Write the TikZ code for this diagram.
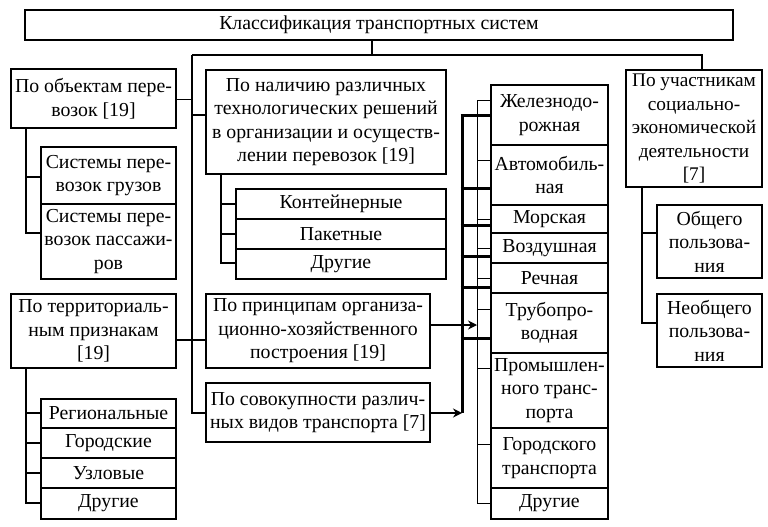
\documentclass[tikz,border=0pt]{standalone}
\usepackage{fontspec}
\setmainfont{Liberation Serif}
\usetikzlibrary{arrows.meta}
\begin{document}
\begin{tikzpicture}[x=1pt,y=-1pt,
  box/.style={draw,line width=1.6pt,inner sep=0pt,align=center,font=\fontsize{19.8}{23.5}\selectfont},
  conn/.style={line width=1.6pt},
  thinconn/.style={line width=0.9pt},
  thickconn/.style={line width=3pt},
  arr/.style={line width=2.6pt,-{Stealth[length=9pt,width=9pt]}}]
\useasboundingbox (0,0) rectangle (768,527);
% boxes: center, width, height
\node[box,minimum width=708pt,minimum height=30pt] (title) at (379,25) {Классификация транспортных систем};
\node[box,minimum width=165pt,minimum height=59pt] (obj) at (93.5,98.5) {По объектам пере-\\возок {[19]}};
\node[box,minimum width=135pt,minimum height=57pt] (gruz) at (108.5,175.5) {Системы пере-\\возок грузов};
\node[box,minimum width=135pt,minimum height=75pt] (pass) at (108.5,241.5) {Системы пере-\\возок пассажи-\\ров};
\node[box,minimum width=165pt,minimum height=74pt] (terr) at (93.5,331) {По территориаль-\\ным признакам\\{[19]}};
\node[box,minimum width=135pt,minimum height=29pt] (reg) at (108.5,413.5) {Региональные};
\node[box,minimum width=135pt,minimum height=30pt] (gor) at (108.5,443) {Городские};
\node[box,minimum width=135pt,minimum height=30pt] (uzl) at (108.5,473) {Узловые};
\node[box,minimum width=135pt,minimum height=31pt] (drA) at (108.5,503.5) {Другие};
\node[box,minimum width=240pt,minimum height=104pt] (nal) at (326,122) {По наличию различных\\технологических решений\\в организации и осуществ-\\лении перевозок {[19]}};
\node[box,minimum width=210pt,minimum height=30pt] (kont) at (341,204) {Контейнерные};
\node[box,minimum width=210pt,minimum height=30pt] (pak) at (341,234) {Пакетные};
\node[box,minimum width=210pt,minimum height=30pt] (drB) at (341,264) {Другие};
\node[box,minimum width=224pt,minimum height=74pt] (prin) at (318,331) {По принципам организа-\\ционно-хозяйственного\\построения {[19]}};
\node[box,minimum width=224pt,minimum height=59pt] (sov) at (318,412.5) {По совокупности различ-\\ных видов транспорта {[7]}};
% transport column
\node[box,minimum width=117pt,minimum height=60pt] (zhel) at (549.5,115) {Железнодо-\\рожная};
\node[box,minimum width=117pt,minimum height=60pt] (avto) at (549.5,175) {Автомобиль-\\ная};
\node[box,minimum width=117pt,minimum height=28pt] (mor) at (549.5,219) {Морская};
\node[box,minimum width=117pt,minimum height=30pt] (vozd) at (549.5,248) {Воздушная};
\node[box,minimum width=117pt,minimum height=30pt] (rech) at (549.5,278) {Речная};
\node[box,minimum width=117pt,minimum height=60pt] (trub) at (549.5,323) {Трубопро-\\водная};
\node[box,minimum width=117pt,minimum height=75pt] (prom) at (549.5,390.5) {Промышлен-\\ного транс-\\порта};
\node[box,minimum width=117pt,minimum height=60pt] (gorod) at (549.5,458) {Городского\\транспорта};
\node[box,minimum width=117pt,minimum height=31pt] (drC) at (549.5,503.5) {Другие};
% right column
\node[box,minimum width=136pt,minimum height=117pt,font=\fontsize{19.3}{23.5}\selectfont] (uch) at (694,128.5) {По участникам\\социально-\\экономической\\деятельности\\{[7]}};
\node[box,minimum width=105pt,minimum height=73pt] (obsh) at (709.5,241.5) {Общего\\пользова-\\ния};
\node[box,minimum width=105pt,minimum height=73pt] (neobsh) at (709.5,330.5) {Необщего\\пользова-\\ния};
% coordinates
\coordinate (hub) at (372,55);
\coordinate (trL) at (192,55);
\coordinate (trR) at (702,55);
\coordinate (trB) at (192,413);
\coordinate (bObj) at (26,233);
\coordinate (bTerr) at (26,503);
\coordinate (bNal) at (221,263);
\coordinate (bUch) at (642,323);
\coordinate (thinT) at (477,100);
\coordinate (thinB) at (477,503);
\coordinate (thickT) at (462,115);
\coordinate (thickB) at (462,413);
% main trunk
\draw[conn] (title.south -| hub) -- (hub);
\draw[conn] (trL) -- (trR) -- (uch.north -| trR);
\draw[conn] (trL) -- (trB) -- (sov.west |- trB);
\draw[thinconn] (obj.east |- 0,99) -- (192,99);
\draw[conn] (192,115) -- (nal.west |- 0,115);
\draw[conn] (terr.east |- 0,340) -- (prin.west |- 0,340);
% left brackets
\draw[conn] (obj.south -| bObj) -- (bObj) -- (pass.west |- bObj);
\draw[conn] (26,177) -- (gruz.west |- 0,177);
\draw[conn] (terr.south -| bTerr) -- (bTerr) -- (drA.west |- bTerr);
\foreach \y/\n in {413/reg,443/gor,473/uzl}{\draw[conn] (26,\y) -- (\n.west |- 0,\y);}
\draw[conn] (nal.south -| bNal) -- (bNal) -- (drB.west |- bNal);
\foreach \y/\n in {204/kont,234/pak}{\draw[conn] (221,\y) -- (\n.west |- 0,\y);}
\draw[conn] (uch.south -| bUch) -- (bUch) -- (neobsh.west |- bUch);
\draw[conn] (642,233) -- (obsh.west |- 0,233);
% transport column brackets
\draw[thinconn] (thinT) -- (thinB);
\foreach \y/\n in {100/zhel,160/avto,219/mor,248/vozd,278/rech,309/trub,368/prom,444/gorod,503/drC}{\draw[thinconn] (477,\y) -- (\n.west |- 0,\y);}
\draw[thickconn] (thickT) -- (thickB);
\foreach \y/\n in {115/zhel,188/avto,225/mor,256/vozd,287/rech,338/trub}{\draw[thickconn] (460.5,\y) -- (\n.west |- 0,\y);}
% arrows
\draw[arr] (prin.east |- 0,325) -- (477,325);
\draw[arr] (sov.east |- thickB) -- (thickB);
\end{tikzpicture}
\end{document}
